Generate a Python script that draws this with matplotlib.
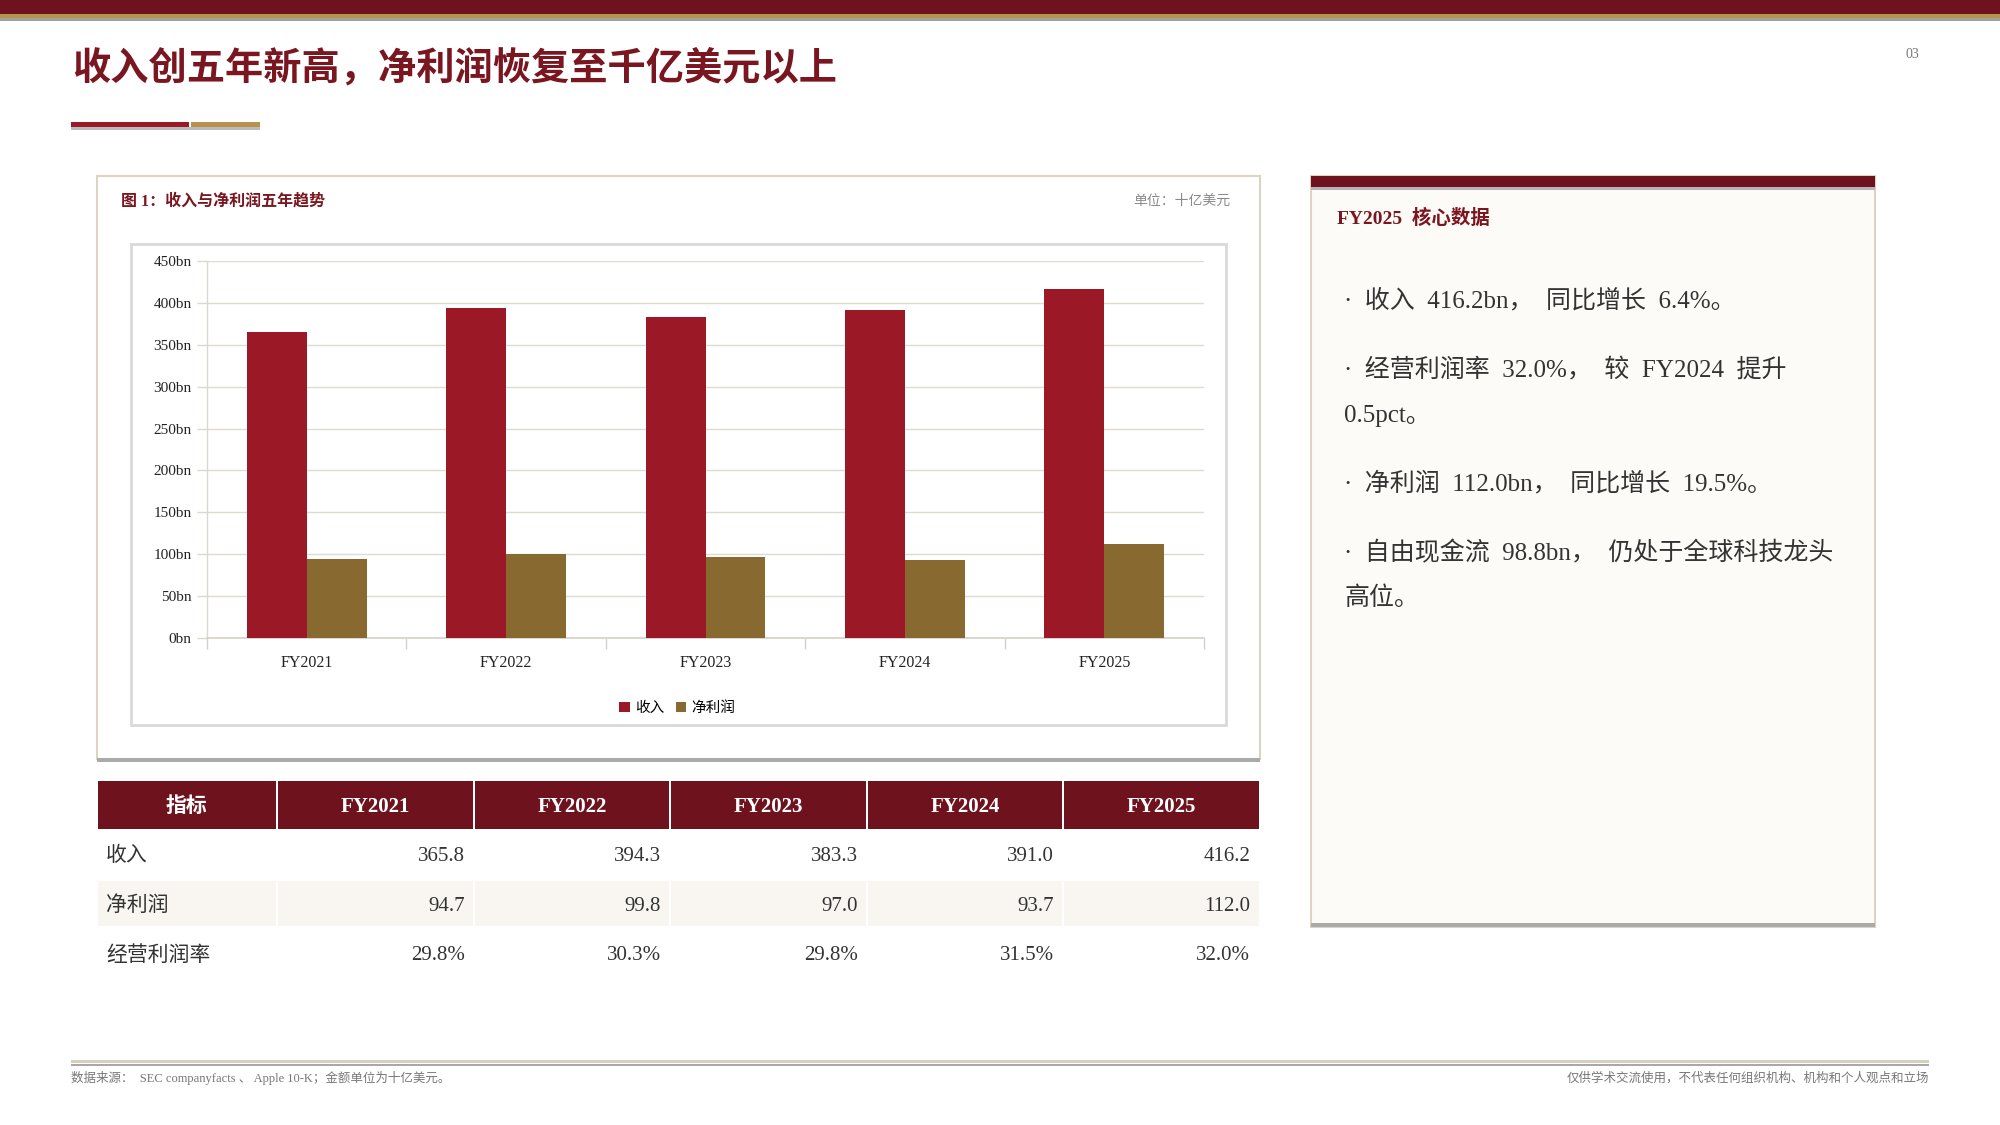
import matplotlib
matplotlib.use("Agg")
import matplotlib.pyplot as plt
from matplotlib.patches import Rectangle, Patch
import numpy as np

# ---------------- data ----------------
years = ["FY2021", "FY2022", "FY2023", "FY2024", "FY2025"]
revenue = [365.8, 394.3, 383.3, 391.0, 416.2]
net_income = [94.7, 99.8, 97.0, 93.7, 112.0]
op_margin = [29.8, 30.3, 29.8, 31.5, 32.0]
y_ticks = [0, 50, 100, 150, 200, 250, 300, 350, 400, 450]
y_tick_labels = [f"{v}bn" for v in y_ticks]
series_names = ["收入", "净利润"]
table_rows = ["收入", "净利润", "经营利润率"]
table_head = "指标"

title = "收入创五年新高，净利润恢复至千亿美元以上"
chart_title = "图 1：收入与净利润五年趋势"
unit_text = "单位：十亿美元"
panel_title = "FY2025  核心数据"
bullet_lines = [
    "·  收入  416.2bn，  同比增长  6.4%。",
    "·  经营利润率  32.0%，  较  FY2024  提升",
    "0.5pct。",
    "·  净利润  112.0bn，  同比增长  19.5%。",
    "·  自由现金流  98.8bn，  仍处于全球科技龙头",
    "高位。",
]
footer_left = "数据来源：  SEC companyfacts 、 Apple 10-K；金额单位为十亿美元。"
footer_right = "仅供学术交流使用，不代表任何组织机构、机构和个人观点和立场"
page_no = "03"

# ---------------- style ----------------
DARK_RED = "#6E131E"
BAR_RED = "#9B1826"
BAR_GOLD = "#88692F"
GOLD = "#B8914A"
TITLE_RED = "#7A1620"
BEIGE = "#DCD3C5"
SERIF = ["Liberation Serif", "Noto Sans CJK SC"]
SANS = ["Noto Sans CJK SC", "DejaVu Sans"]
TXT = "#333333"

W, H = 2000, 1125
fig = plt.figure(figsize=(W / 100, H / 100), dpi=100)
fig.patch.set_facecolor("white")

bg = fig.add_axes([0, 0, 1, 1], zorder=0)
bg.set_xlim(0, W)
bg.set_ylim(H, 0)
bg.axis("off")


def rect(x0, y0, x1, y1, fc, ec="none", lw=0, z=1):
    bg.add_patch(Rectangle((x0, y0), x1 - x0, y1 - y0, facecolor=fc,
                           edgecolor=ec, linewidth=lw, zorder=z))


# top bars
rect(0, 0, W, 14, DARK_RED)
rect(0, 14, W, 18, GOLD)
rect(0, 18, W, 21, "#A0A0A0")

# title
bg.text(72, 68, title, fontsize=27.5, fontweight="bold", color=TITLE_RED,
        family=SANS, va="center", ha="left")
bg.text(1912, 55, page_no, fontsize=10, color="#777777", family=SERIF,
        va="center", ha="center")
# accent bars
rect(71, 122, 189, 127, "#9B1826")
rect(191, 122, 260, 127, GOLD)
rect(71, 127, 260, 129.5, "#BBBBBB")

# chart panel
rect(97, 176, 1260, 759, "white", ec=BEIGE, lw=1.5)
rect(97, 758, 1260, 762, "#AAAAAA")
bg.text(121, 202, chart_title, fontsize=11.5, fontweight="bold",
        color=TITLE_RED, family=SERIF, va="center", ha="left")
bg.text(1230, 201, unit_text, fontsize=10, color="#8A8A8A", family=SERIF,
        va="center", ha="right")
rect(131, 244, 1226, 725, "white", ec="#D9D9D9", lw=2)

# chart axes
ax_l, ax_r, ax_t, ax_b = 207, 1204, 261, 638
ax = fig.add_axes([ax_l / W, 1 - ax_b / H, (ax_r - ax_l) / W, (ax_b - ax_t) / H],
                  zorder=2)
ax.set_facecolor("none")
x = np.arange(len(years))
bw = 0.30
ax.bar(x - bw / 2, revenue, bw, color=BAR_RED, zorder=3, label=series_names[0])
ax.bar(x + bw / 2, net_income, bw, color=BAR_GOLD, zorder=3, label=series_names[1])
ax.set_xlim(-0.5, len(years) - 0.5)
ax.set_ylim(0, 450)
ax.set_yticks(y_ticks)
ax.set_yticklabels(y_tick_labels, family=SERIF, fontsize=11, color="#222222")
ax.set_xticks(x)
ax.set_xticklabels(years, family=SERIF, fontsize=11.5, color="#222222")
ax.set_xticks(np.arange(-0.5, len(years), 1.0), minor=True)
ax.tick_params(axis="x", which="major", length=0, pad=12)
ax.tick_params(axis="x", which="minor", length=8, color="#D6D1C8", width=1)
ax.tick_params(axis="y", length=7, color="#DDD8CF", width=1, pad=4)
ax.grid(axis="y", color="#E0DBD2", linewidth=1, zorder=0)
for s in ["top", "right"]:
    ax.spines[s].set_visible(False)
ax.spines["left"].set_color("#DDD8CF")
ax.spines["bottom"].set_color("#D6D1C8")
ax.spines["left"].set_linewidth(1)
ax.spines["bottom"].set_linewidth(1.2)

handles = [Patch(facecolor=BAR_RED, label=series_names[0]),
           Patch(facecolor=BAR_GOLD, label=series_names[1])]
fig.legend(handles=handles, loc="center", bbox_to_anchor=(677 / W, 1 - 708 / H),
           ncol=2, frameon=False, prop={"family": SANS, "size": 10.5},
           handlelength=0.7, handleheight=0.7, handletextpad=0.35,
           columnspacing=0.8)

# table
col_x = [98, 277, 474, 670, 867, 1063, 1259]
head_y = (781, 829)
row_y = [(829, 878), (879, 928), (928, 978)]
gap = 1.2
for j in range(len(col_x) - 1):
    x0, x1 = col_x[j] + (gap if j > 0 else 0), col_x[j + 1] - (gap if j < len(col_x) - 2 else 0)
    rect(x0, head_y[0], x1, head_y[1], DARK_RED)
    label = table_head if j == 0 else years[j - 1]
    bg.text((x0 + x1) / 2, sum(head_y) / 2 + 2, label, color="white", fontsize=15,
            fontweight="bold", family=SERIF, ha="center", va="center")

values = [[f"{v:.1f}" for v in revenue],
          [f"{v:.1f}" for v in net_income],
          [f"{v:.1f}%" for v in op_margin]]
for i, (name, (y0, y1)) in enumerate(zip(table_rows, row_y)):
    if i == 1:
        for j in range(len(col_x) - 1):
            x0 = col_x[j] + (gap if j > 0 else 0)
            x1 = col_x[j + 1] - (gap if j < len(col_x) - 2 else 0)
            rect(x0, y0 + 2, x1, y1 - 2, "#F9F6F1")
    yc = (y0 + y1) / 2 + 3
    bg.text(106, yc, name, color=TXT, fontsize=15, family=SERIF,
            ha="left", va="center")
    for j, val in enumerate(values[i]):
        bg.text(col_x[j + 2] - 9, yc, val, color=TXT, fontsize=15,
                family=SERIF, ha="right", va="center")

# right panel
px0, px1, py0, py1 = 1311, 1875, 176, 927
rect(px0, py0, px1, py1, "#FDFBF7", ec=BEIGE, lw=1.5)
rect(px0, py0, px1, 187, DARK_RED)
rect(px0, 187, px1, 190, "#B5B5B5")
rect(px0, py1 - 4, px1, py1, "#AAAAAA")
bg.text(1337, 218, panel_title, fontsize=14, fontweight="bold",
        color=TITLE_RED, family=SERIF, ha="left", va="center")
line_y = [301, 370, 416, 484, 553, 598]
for s, yy in zip(bullet_lines, line_y):
    bg.text(1344, yy, s, fontsize=18, color=TXT, family=SERIF,
            ha="left", va="center")

# footer
rect(71, 1060, 1929, 1063, "#D8CFC0")
rect(71, 1064, 1929, 1066, "#A8A8A8")
bg.text(71, 1078, footer_left, fontsize=9, color="#777777", family=SERIF,
        ha="left", va="center")
bg.text(1929, 1078, footer_right, fontsize=9, color="#777777", family=SERIF,
        ha="right", va="center")

fig.savefig("out.png", dpi=100, facecolor="white")
